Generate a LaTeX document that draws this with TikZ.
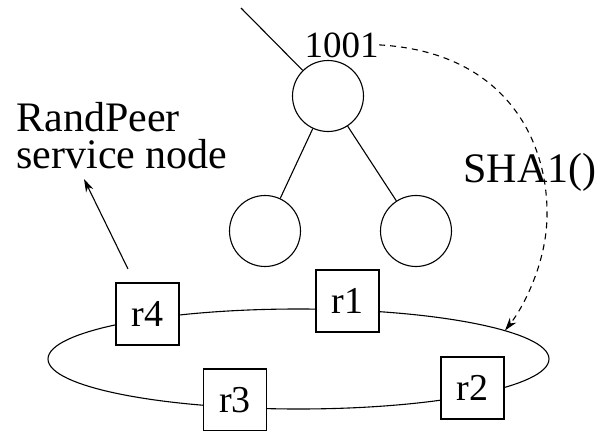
\documentclass[tikz,border=0pt]{standalone}
\usepackage{fontspec}
\setmainfont{Liberation Serif}
\newfontfamily\figserif{Liberation Serif}
\usetikzlibrary{arrows.meta}
\begin{document}
\begin{tikzpicture}[x=1pt,y=-1pt,line width=1.1pt,
  treenode/.style={circle,draw,minimum size=71pt,inner sep=0pt},
  ringbox/.style={rectangle,draw,fill=white,minimum width=63pt,minimum height=62pt,
    inner sep=0pt,font=\figserif\fontsize{38}{38}\selectfont},
  bigtext/.style={inner sep=0pt,font=\figserif\fontsize{42}{37}\selectfont},
  tipped/.style={-{Stealth[length=13pt,width=8pt,inset=4pt]}},
  hashline/.style={dash pattern=on 6pt off 5pt}]
\useasboundingbox (0,0) rectangle (598,431);

% the ring of service nodes
\draw (298.5,359) ellipse [x radius=250.5pt, y radius=50pt];
\coordinate (hit) at (505,330.5);
\node[ringbox] (r1) at (347.5,301) {r1};
\node[ringbox] (r2) at (472.5,388) {r2};
\node[ringbox] (r3) at (235,400) {r3};
\node[ringbox] (r4) at (147.5,314) {r4};

% the tree
\node[treenode] (top) at (328,96) {};
\node[treenode] (left) at (265,231) {};
\node[treenode] (right) at (416,231) {};
\coordinate (parent) at (241,8);
\draw (parent) -- (top);
\draw (top) -- (left);
\draw (top) -- (right);

% labels
\node[anchor=base west,inner sep=0pt,font=\figserif\fontsize{37}{37}\selectfont] (num) at (304,57) {1001};
\node[bigtext,anchor=base west] (sha) at (463,182) {SHA1()};
\node[bigtext,anchor=base west,align=left] (svc) at (16,168) {RandPeer\\service node};

% hashing arrow
\draw[hashline,tipped] (num.east) .. controls (505,52) and (548,140) .. (547,215)
  .. controls (547,260) and (525,305) .. (hit);

% pointer to the service node label
\coordinate (tail) at (128,269);
\coordinate (head) at (84,179);
\draw[tipped] (tail) -- (head);
\end{tikzpicture}
\end{document}
